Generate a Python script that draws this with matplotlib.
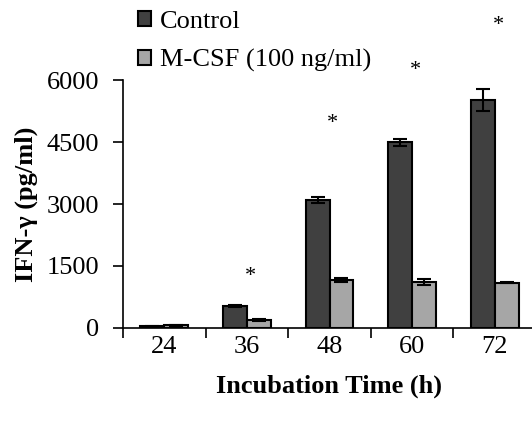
import matplotlib
matplotlib.use("Agg")
import matplotlib.pyplot as plt
import numpy as np

plt.rcParams['font.family'] = ['Liberation Serif', 'DejaVu Serif']

categories = ['24', '36', '48', '60', '72']
control = [40, 530, 3090, 4490, 5520]
control_err = [10, 15, 70, 90, 260]
mcsf = [70, 195, 1165, 1115, 1095]
mcsf_err = [10, 15, 50, 75, 15]
star_y = [None, 1235, 4945, 6220, 7330]
yticks = [0, 1500, 3000, 4500, 6000]

fig = plt.figure(figsize=(5.32, 4.21), dpi=100)
ax = fig.add_axes([123/532, 1-328/421, 413/532, 248/421])

x = np.arange(len(categories))
w = 0.29
ax.bar(x - w/2, control, w, color='#404040', edgecolor='black', linewidth=1.5,
       yerr=control_err, error_kw=dict(ecolor='black', elinewidth=1.5, capsize=5, capthick=1.5),
       label='Control', zorder=2)
ax.bar(x + w/2, mcsf, w, color='#a6a6a6', edgecolor='black', linewidth=1.5,
       yerr=mcsf_err, error_kw=dict(ecolor='black', elinewidth=1.5, capsize=5, capthick=1.5),
       label='M-CSF (100 ng/ml)', zorder=2)

for xi, sy in zip(x, star_y):
    if sy is not None:
        ax.text(xi + 0.04, sy, '*', ha='center', va='center', fontsize=16, clip_on=False)

ax.set_xlim(-0.5, 4.5)
ax.set_ylim(0, 6000)
ax.set_yticks(yticks)
ax.set_yticklabels([str(t) for t in yticks], fontsize=19)
ax.set_xticks(x)
ax.set_xticklabels(categories, fontsize=19)
ax.set_xticks(np.arange(-0.5, 5.0, 1.0), minor=True)
ax.tick_params(axis='x', which='major', length=0, pad=6)
ax.tick_params(axis='x', which='minor', length=7, width=1.2, direction='out')
ax.tick_params(axis='y', length=7, width=1.2, direction='out', pad=10)

for s in ['top', 'right']:
    ax.spines[s].set_visible(False)
for s in ['left', 'bottom']:
    ax.spines[s].set_linewidth(1.2)

ax.set_ylabel('IFN-γ (pg/ml)', fontsize=19, fontweight='bold', labelpad=6)
ax.set_xlabel('Incubation Time (h)', fontsize=19, fontweight='bold', labelpad=12)

leg = ax.legend(loc='lower left', bbox_to_anchor=(0.0, 0.972), frameon=False,
                fontsize=19, handlelength=0.5, handleheight=0.5, handletextpad=0.35,
                labelspacing=0.62, borderaxespad=0.15)

fig.savefig('out.png', dpi=100)
